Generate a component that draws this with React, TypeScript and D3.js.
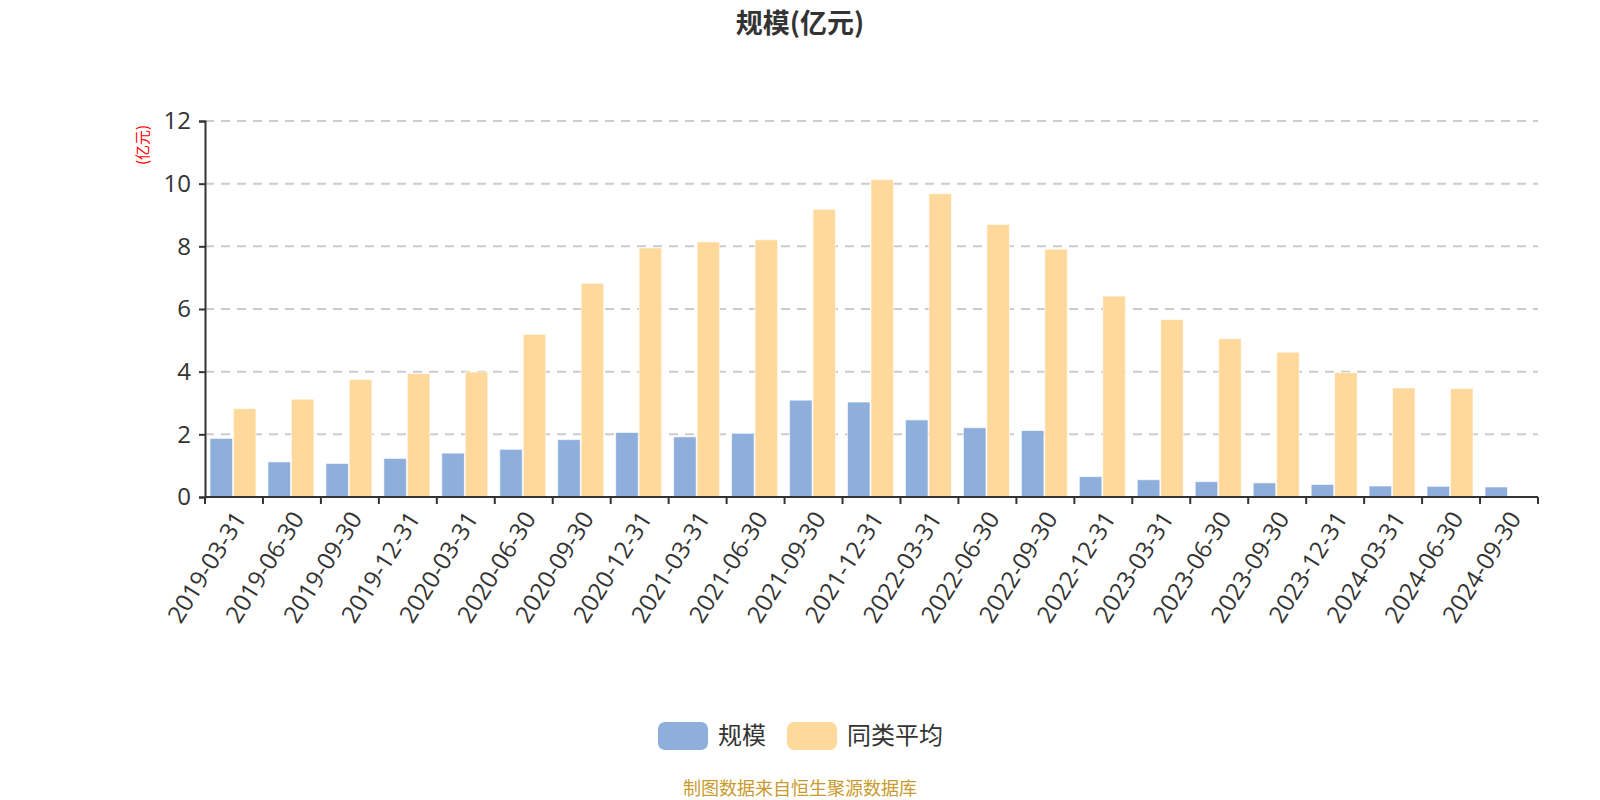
import React, { useEffect, useRef } from 'react';
import * as d3 from 'd3';

// 报告期
const periods = [
  '2019-03-31', '2019-06-30', '2019-09-30', '2019-12-31',
  '2020-03-31', '2020-06-30', '2020-09-30', '2020-12-31',
  '2021-03-31', '2021-06-30', '2021-09-30', '2021-12-31',
  '2022-03-31', '2022-06-30', '2022-09-30', '2022-12-31',
  '2023-03-31', '2023-06-30', '2023-09-30', '2023-12-31',
  '2024-03-31', '2024-06-30', '2024-09-30',
];

// 规模 (亿元)
const scale = [
  1.87, 1.12, 1.07, 1.23, 1.40, 1.52, 1.83, 2.06, 1.92, 2.03, 3.09, 3.03,
  2.46, 2.21, 2.12, 0.65, 0.55, 0.49, 0.45, 0.40, 0.35, 0.34, 0.32,
];

// 同类平均 (亿元), last period has no value
const peerAvg: (number | null)[] = [
  2.82, 3.12, 3.75, 3.94, 3.99, 5.19, 6.82, 7.95, 8.14, 8.21, 9.18, 10.13,
  9.68, 8.70, 7.91, 6.41, 5.66, 5.05, 4.62, 3.97, 3.48, 3.46, null,
];

const yTicks = [0, 2, 4, 6, 8, 10, 12];

const seriesNames = ['规模', '同类平均'];
const seriesColors = ['#8eaedb', '#fed99b'];

const WIDTH = 1600;
const HEIGHT = 800;
const FONT = '"Noto Sans CJK SC", "Noto Sans", sans-serif';
const AXIS_FONT = '"Open Sans", "Noto Sans CJK SC", sans-serif';

export default function App() {
  const svgRef = useRef<SVGSVGElement>(null);

  useEffect(() => {
    if (!svgRef.current) return;
    const svg = d3.select(svgRef.current);
    svg.selectAll('*').remove();

    const margin = { top: 121, right: 62, bottom: 303, left: 205 };
    const innerW = WIDTH - margin.left - margin.right;
    const innerH = HEIGHT - margin.top - margin.bottom;

    const x = d3.scaleBand<string>().domain(periods).range([margin.left, margin.left + innerW]);
    const y = d3.scaleLinear().domain([0, 12]).range([margin.top + innerH, margin.top]);

    // Title
    svg.append('text')
      .attr('x', 800)
      .attr('y', 33)
      .attr('text-anchor', 'middle')
      .attr('font-family', FONT)
      .attr('font-size', 27)
      .attr('font-weight', 'bold')
      .attr('fill', '#333')
      .text('规模(亿元)');

    // Grid lines
    svg.append('g')
      .selectAll('line')
      .data(yTicks.filter(t => t > 0))
      .join('line')
      .attr('x1', margin.left)
      .attr('x2', margin.left + innerW)
      .attr('y1', d => y(d))
      .attr('y2', d => y(d))
      .attr('stroke', '#ccc')
      .attr('stroke-width', 2)
      .attr('stroke-dasharray', '9,7');

    // Bars
    const sub = d3.scaleBand<number>()
      .domain([0, 1])
      .range([5, x.bandwidth() - 7])
      .paddingInner(0.04);

    const bars = svg.append('g');
    [scale, peerAvg].forEach((vals, si) => {
      bars.append('g')
        .selectAll('rect')
        .data(periods.map((p, i) => ({ p, v: vals[i] })).filter(d => d.v != null))
        .join('rect')
        .attr('x', d => (x(d.p) as number) + (sub(si) as number))
        .attr('width', sub.bandwidth())
        .attr('y', d => y(d.v as number))
        .attr('height', d => y(0) - y(d.v as number))
        .attr('fill', seriesColors[si])
        .attr('stroke', 'rgba(255,255,255,0.6)')
        .attr('stroke-width', 1);
    });

    // Y axis
    const yAxis = d3.axisLeft(y).tickValues(yTicks).tickSize(6).tickPadding(8);
    svg.append('g')
      .attr('transform', `translate(${margin.left},0)`)
      .call(yAxis)
      .call(g => g.select('.domain').attr('stroke', '#333').attr('stroke-width', 2))
      .call(g => g.selectAll('.tick line').attr('stroke', '#333').attr('stroke-width', 2))
      .call(g => g.selectAll('.tick text')
        .attr('fill', '#333')
        .attr('font-size', 24)
        .attr('font-family', AXIS_FONT));

    // Y axis unit
    svg.append('text')
      .attr('transform', `translate(148,145) rotate(-90)`)
      .attr('text-anchor', 'middle')
      .attr('font-family', FONT)
      .attr('font-size', 15)
      .attr('fill', '#ff0000')
      .text('(亿元)');

    // X axis
    const base = y(0);
    const xg = svg.append('g');
    xg.append('line')
      .attr('x1', margin.left)
      .attr('x2', margin.left + innerW)
      .attr('y1', base)
      .attr('y2', base)
      .attr('stroke', '#333')
      .attr('stroke-width', 2);
    xg.selectAll('line.tick')
      .data([...periods.map(p => x(p) as number), margin.left + innerW])
      .join('line')
      .attr('class', 'tick')
      .attr('x1', d => d)
      .attr('x2', d => d)
      .attr('y1', base)
      .attr('y2', base + 7)
      .attr('stroke', '#333')
      .attr('stroke-width', 2);
    xg.selectAll('text')
      .data(periods)
      .join('text')
      .attr('transform', d => `translate(${(x(d) as number) + x.bandwidth() / 2 + 6},${base + 17}) rotate(-58)`)
      .attr('text-anchor', 'end')
      .attr('dy', '0.35em')
      .attr('font-family', AXIS_FONT)
      .attr('font-size', 24)
      .attr('fill', '#333')
      .text(d => d);

    // Legend
    const legendItems = [
      { name: seriesNames[0], color: seriesColors[0], x: 658 },
      { name: seriesNames[1], color: seriesColors[1], x: 787 },
    ];
    const lg = svg.append('g');
    legendItems.forEach(item => {
      lg.append('rect')
        .attr('x', item.x)
        .attr('y', 722)
        .attr('width', 50)
        .attr('height', 28)
        .attr('rx', 7)
        .attr('fill', item.color);
      lg.append('text')
        .attr('x', item.x + 60)
        .attr('y', 736)
        .attr('dy', '0.35em')
        .attr('font-family', FONT)
        .attr('font-size', 24)
        .attr('fill', '#333')
        .text(item.name);
    });

    // Source note
    svg.append('text')
      .attr('x', 800)
      .attr('y', 795)
      .attr('text-anchor', 'middle')
      .attr('font-family', FONT)
      .attr('font-size', 18)
      .attr('fill', '#c99a2e')
      .text('制图数据来自恒生聚源数据库');
  }, []);

  return (
    <svg
      ref={svgRef}
      width={WIDTH}
      height={HEIGHT}
      viewBox={`0 0 ${WIDTH} ${HEIGHT}`}
      style={{ position: 'absolute', left: 0, top: 0, background: '#fff' }}
    />
  );
}
